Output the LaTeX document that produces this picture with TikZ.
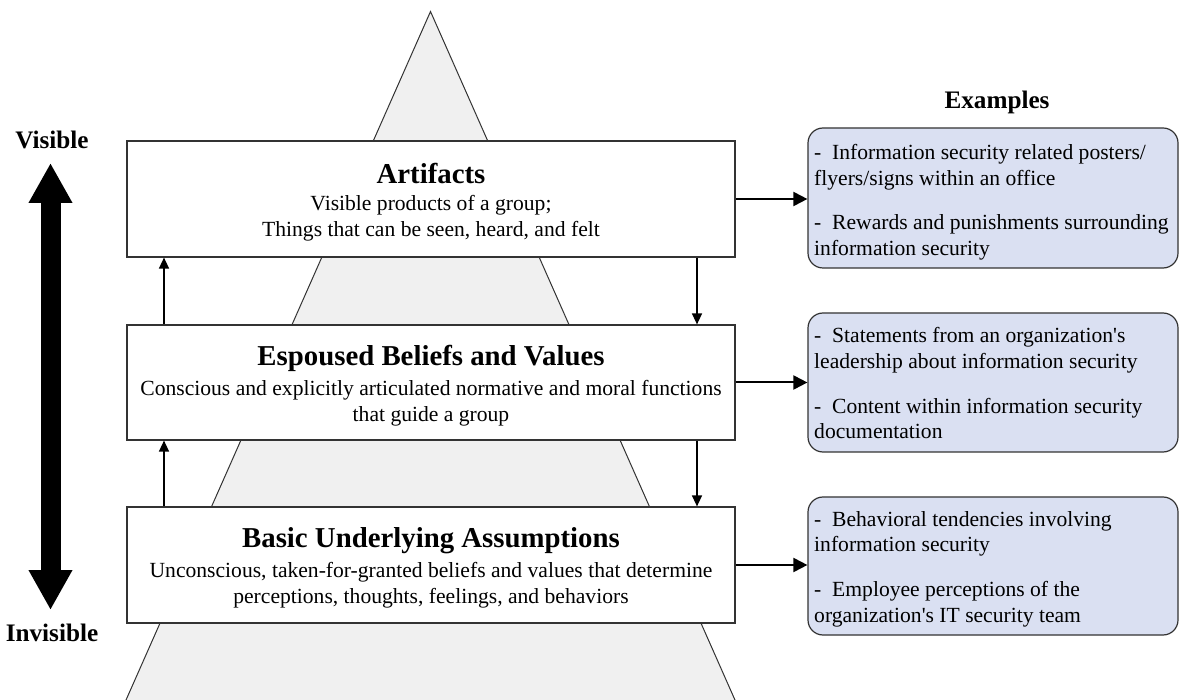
\documentclass[tikz,border=0pt]{standalone}
\usepackage{fontspec}
\setmainfont{Liberation Serif}
\usetikzlibrary{arrows.meta}
\definecolor{trifill}{HTML}{F0F0F0}
\definecolor{exfill}{HTML}{DAE0F2}
\definecolor{edge}{HTML}{333333}
\tikzset{
  layerbox/.style={draw=edge, line width=1.2pt, fill=white, minimum width=608pt, minimum height=116pt, inner sep=0pt},
  exbox/.style={draw=edge, line width=1.2pt, fill=exfill, rounded corners=15pt, minimum width=370pt, inner sep=0pt},
  titletext/.style={font=\fontsize{28.8}{33}\selectfont\bfseries, inner sep=0pt},
  bodytext/.style={font=\fontsize{21.6}{26}\selectfont, align=center, inner sep=0pt},
  extext/.style={font=\fontsize{21.6}{25.8}\selectfont, align=left, inner sep=0pt, anchor=north west},
  sidelabel/.style={font=\fontsize{25.2}{30}\selectfont\bfseries, inner sep=0pt},
  smallarrow/.style={draw=black, line width=1.5pt, -{Triangle[length=11pt,width=10pt]}},
  rightarrow/.style={draw=black, line width=2pt, -{Triangle[length=14pt,width=14pt]}},
  bigarrow/.style={draw=black, line width=20pt, {Triangle[length=40pt,width=41pt]}-{Triangle[length=40pt,width=41pt]}}
}
\begin{document}
\begin{tikzpicture}[x=1pt,y=-1pt]
\useasboundingbox (0,0) rectangle (1179,700);
% pyramid
\draw[fill=trifill, draw=edge, line width=1pt] (430.5,11.5) -- (121.6,710) -- (739.4,710) -- cycle;

% layer boxes
\node[layerbox] (art) at (431,199) {};
\node[layerbox, minimum height=115pt] (esp) at (431,382.5) {};
\node[layerbox] (bas) at (431,565) {};

\node[titletext] (artT) at (431,174) {Artifacts};
\node[bodytext] (artB) at (431,218.5) {Visible products of a group;\\Things that can be seen, heard, and felt};
\node[titletext] (espT) at (431,358.5) {Espoused Beliefs and Values};
\node[bodytext] (espB) at (431,403) {Conscious and explicitly articulated normative and moral functions\\that guide a group};
\node[titletext] (basT) at (431,541) {Basic Underlying Assumptions};
\node[bodytext] (basB) at (431,585) {Unconscious, taken-for-granted beliefs and values that determine\\perceptions, thoughts, feelings, and behaviors};

% example boxes
\node[exbox, minimum height=140pt] (ex1) at (993,198) {};
\node[exbox, minimum height=139pt] (ex2) at (993,382.5) {};
\node[exbox, minimum height=138pt] (ex3) at (993,566) {};

\node[extext] (ex1t) at (814,144) {-~~Information security related posters/\\flyers/signs within an office\\[18.5pt]-~~Rewards and punishments surrounding\\information security};
\node[extext] (ex2t) at (814,327.5) {-~~Statements from an organization\textquotesingle s\\leadership about information security\\[18.5pt]-~~Content within information security\\documentation};
\node[extext] (ex3t) at (814,511) {-~~Behavioral tendencies involving\\information security\\[18.5pt]-~~Employee perceptions of the\\organization\textquotesingle s IT security team};

\node[sidelabel] (exh) at (997,102) {Examples};
\node[sidelabel] (vis) at (52,140) {Visible};
\node[sidelabel] (invis) at (52,633) {Invisible};

% connectors between layers
\draw[smallarrow] (esp.north west -| 164,0) -- (art.south west -| 164,0);
\draw[smallarrow] (bas.north west -| 164,0) -- (esp.south west -| 164,0);
\draw[smallarrow] (art.south east -| 697,0) -- (esp.north east -| 697,0);
\draw[smallarrow] (esp.south east -| 697,0) -- (bas.north east -| 697,0);

% connectors to examples
\draw[rightarrow] (art.east) -- (art.east -| ex1.west);
\draw[rightarrow] (esp.east) -- (esp.east -| ex2.west);
\draw[rightarrow] (bas.east) -- (bas.east -| ex3.west);

% visibility arrow
\coordinate (vtop) at (50.5,163);
\coordinate (vbot) at (50.5,610);
\draw[bigarrow] (vtop) -- (vbot);
\end{tikzpicture}
\end{document}
